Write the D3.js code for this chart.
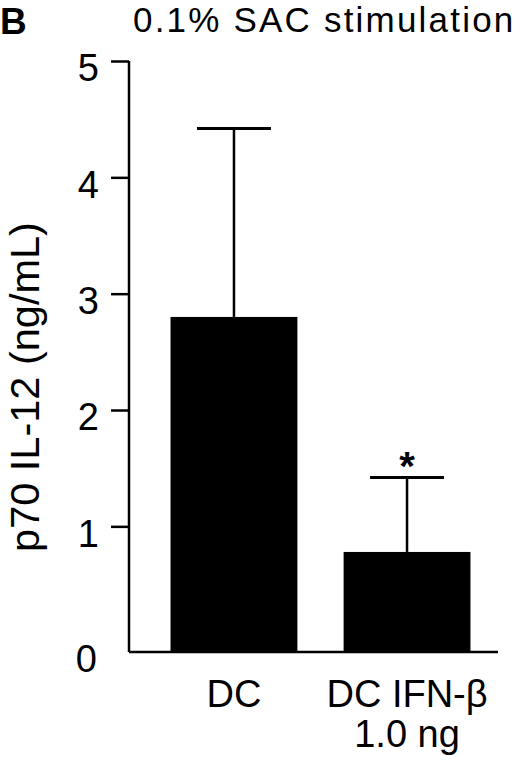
<!DOCTYPE html>
<html>
<head>
<meta charset="utf-8">
<script src="https://cdn.jsdelivr.net/npm/d3@7"></script>
<style>
  html, body { margin: 0; padding: 0; background: #fff; }
  svg { display: block; }
  text { font-family: "Liberation Sans", Arial, Helvetica, sans-serif; fill: #000; }
</style>
</head>
<body>
<svg id="chart" width="520" height="778"></svg>
<script>
// ---- data ----
const categories = ["DC", "DC IFN-β|1.0 ng"];
const means = [2.80, 0.78];
const errUpper = [4.42, 1.42];
const significant = [false, true];
const yTicks = [0, 1, 2, 3, 4, 5];
const panelLabel = "B";
const title = "0.1% SAC stimulation";
const yLabel = "p70 IL-12 (ng/mL)";

// ---- layout ----
const svg = d3.select("#chart");
const mLeft = 129, mRight = 498, mTop = 61, mBottom = 652;

const y = d3.scaleLinear().domain([-0.08, 5]).range([mBottom, mTop]);
const x = d3.scaleBand().domain(categories).range([mLeft, 512])
  .paddingInner(0.267).paddingOuter(0.24);

// panel letter
svg.append("text").attr("x", 0).attr("y", 34)
  .attr("font-size", 37).attr("font-weight", "bold").text(panelLabel);

// title
svg.append("text").attr("x", 133).attr("y", 32)
  .attr("font-size", 35).attr("letter-spacing", 2.2).text(title);

// y axis
const yAxis = d3.axisLeft(y).tickValues(yTicks.filter(d => d > 0))
  .tickSize(18).tickPadding(12).tickFormat(d3.format("d"));
const gy = svg.append("g").attr("transform", `translate(${mLeft},0)`).call(yAxis);
gy.select(".domain").remove();
gy.selectAll(".tick line").attr("stroke", "#000").attr("stroke-width", 2.5);
gy.selectAll(".tick text").attr("font-size", 38).attr("dy", "0.52em")
  .attr("font-family", "Liberation Sans, Arial, sans-serif").attr("fill", "#000");
// zero label at the baseline
svg.append("text").attr("x", mLeft - 32).attr("y", mBottom)
  .attr("font-size", 38).attr("text-anchor", "end").attr("dy", "0.52em")
  .text(d3.format("d")(yTicks[0]));

// axis lines
svg.append("line").attr("x1", mLeft).attr("x2", mLeft).attr("y1", y(5)).attr("y2", mBottom)
  .attr("stroke", "#000").attr("stroke-width", 2.5);
svg.append("line").attr("x1", mLeft).attr("x2", mRight).attr("y1", mBottom).attr("y2", mBottom)
  .attr("stroke", "#000").attr("stroke-width", 2.5);

// bars
const data = categories.map((c, i) => ({ c, m: means[i], e: errUpper[i], s: significant[i] }));
svg.selectAll("rect.bar").data(data).join("rect").attr("class", "bar")
  .attr("x", d => x(d.c)).attr("width", x.bandwidth())
  .attr("y", d => y(d.m)).attr("height", d => mBottom - y(d.m))
  .attr("fill", "#000");

// error bars
const capW = 74;
const eb = svg.selectAll("g.err").data(data).join("g").attr("class", "err");
eb.append("line")
  .attr("x1", d => x(d.c) + x.bandwidth() / 2).attr("x2", d => x(d.c) + x.bandwidth() / 2)
  .attr("y1", d => y(d.m)).attr("y2", d => y(d.e))
  .attr("stroke", "#000").attr("stroke-width", 2.5);
eb.append("line")
  .attr("x1", d => x(d.c) + x.bandwidth() / 2 - capW / 2).attr("x2", d => x(d.c) + x.bandwidth() / 2 + capW / 2)
  .attr("y1", d => y(d.e)).attr("y2", d => y(d.e))
  .attr("stroke", "#000").attr("stroke-width", 3);

// significance asterisk
svg.selectAll("text.star").data(data.filter(d => d.s)).join("text").attr("class", "star")
  .attr("x", d => x(d.c) + x.bandwidth() / 2).attr("y", d => y(d.e) + 3)
  .attr("text-anchor", "middle").attr("font-size", 40).attr("font-weight", "bold").text("*");

// x labels
const xl = svg.selectAll("text.xl").data(categories).join("text").attr("class", "xl")
  .attr("text-anchor", "middle").attr("font-size", 38)
  .attr("transform", d => `translate(${x(d) + x.bandwidth() / 2},707)`);
xl.each(function(d) {
  const lines = d.split("|");
  d3.select(this).selectAll("tspan").data(lines).join("tspan")
    .attr("x", 0).attr("dy", (l, i) => i === 0 ? 0 : 40).text(l => l);
});

// y label
svg.append("text").attr("font-size", 41.5).attr("text-anchor", "middle")
  .attr("transform", `translate(39,387) rotate(-90)`).text(yLabel);
</script>
</body>
</html>
